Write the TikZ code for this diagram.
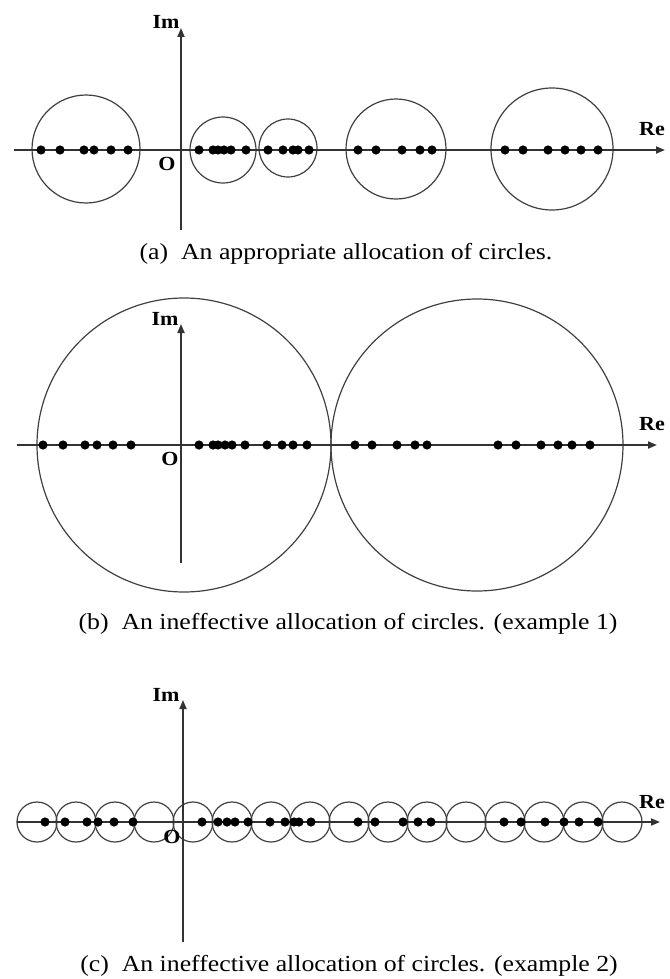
\documentclass[tikz,border=0pt]{standalone}
\usepackage{fontspec}
\setmainfont{Liberation Serif}
\usetikzlibrary{arrows.meta}
\begin{document}
\begin{tikzpicture}[x=1pt,y=-1pt,
  axis/.style={line width=1.8pt, draw=black!80, -{Triangle[length=9pt,width=7pt]}},
  ring/.style={line width=1.2pt, draw=black!75},
  lbl/.style={font=\fontsize{20}{20}\selectfont\bfseries, inner sep=0pt},
  captxt/.style={font=\fontsize{23}{23}\selectfont, inner sep=0pt, anchor=base}]
\useasboundingbox (0,0) rectangle (669,979);

% ---------------- panel (a)
\coordinate (aL) at (14,150);
\coordinate (aR) at (665,150);
\coordinate (aB) at (181,230);
\coordinate (aT) at (181,28);
\foreach \cx/\cy/\r in {86/149/54, 223/150/33, 288/148/29, 396/149/50, 552/149/61}
  \draw[ring] (\cx,\cy) circle[radius=\r pt];
\draw[axis] (aL) -- (aR);
\draw[axis] (aB) -- (aT);
\foreach \x in {41,60,84,94,111,128,199,213,218,224,231,246,268,283,293,298,309,358,376,402,420,432,505,523,548,565,581,598}
  \fill (\x,150) circle[radius=4.6pt];
\node[lbl] (aIm) at (166,22) {\scalebox{1.1}[1]{Im}};
\node[lbl, anchor=west] (aRe) at (639,129) {\scalebox{1.1}[1]{Re}};
\node[lbl] (aO) at (167,164) {\scalebox{1.1}[1]{O}};
\node[captxt] (acap) at (346,259) {\scalebox{1.12}[1]{(a)\ \ An appropriate allocation of circles.}};

% ---------------- panel (b)
\coordinate (bL) at (17,445);
\coordinate (bR) at (657,445);
\coordinate (bB) at (181,563);
\coordinate (bT) at (181,324);
\draw[ring] (184,445) circle[radius=147pt];
\draw[ring] (477,445) circle[radius=146pt];
\draw[axis] (bL) -- (bR);
\draw[axis] (bB) -- (bT);
\foreach \x in {43,63,85,97,113,131,199,213,218,225,232,245,267,282,293,307,355,372,397,415,427,498,516,541,558,572,590}
  \fill (\x,445) circle[radius=4.6pt];
\node[lbl] (bIm) at (165,319) {\scalebox{1.1}[1]{Im}};
\node[lbl, anchor=west] (bRe) at (639,424) {\scalebox{1.1}[1]{Re}};
\node[lbl] (bO) at (170,459) {\scalebox{1.1}[1]{O}};
\node[captxt] (bcap) at (348,629) {\scalebox{1.12}[1]{(b)\ \ An ineffective allocation of circles. (example 1)}};

% ---------------- panel (c)
\coordinate (cL) at (17,822);
\coordinate (cR) at (660,822);
\coordinate (cB) at (183,942);
\coordinate (cT) at (183,700);
\foreach \i in {0,...,15}
  \draw[ring] ({37+39*\i},822) circle[radius=20pt];
\draw[axis] (cL) -- (cR);
\draw[axis] (cB) -- (cT);
\foreach \x in {45,65,87,98,114,133,202,218,227,235,248,270,285,294,299,311,358,375,403,418,431,504,521,545,564,579,598}
  \fill (\x,822) circle[radius=4.6pt];
\node[lbl] (cIm) at (166,695) {\scalebox{1.1}[1]{Im}};
\node[lbl, anchor=west] (cRe) at (639,802) {\scalebox{1.1}[1]{Re}};
\node[lbl] (cO) at (172,837) {\scalebox{1.1}[1]{O}};
\node[captxt] (ccap) at (349,971) {\scalebox{1.12}[1]{(c)\ \ An ineffective allocation of circles. (example 2)}};
\end{tikzpicture}
\end{document}
